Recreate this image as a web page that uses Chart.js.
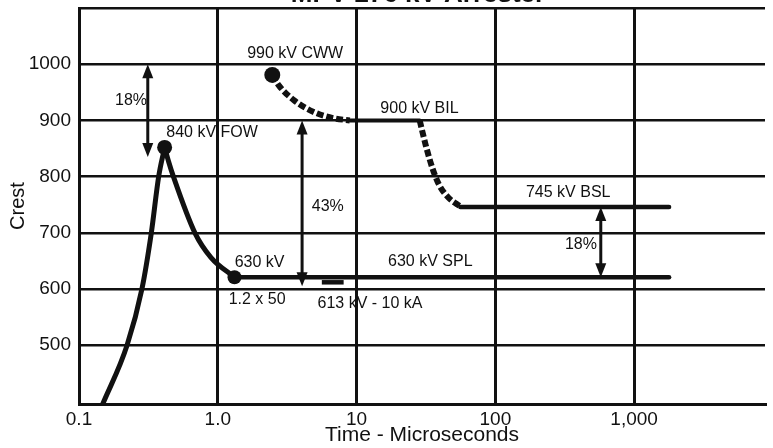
<!DOCTYPE html>
<html><head><meta charset="utf-8">
<script src="https://cdn.jsdelivr.net/npm/chart.js@4/dist/chart.umd.min.js"></script>
<style>html,body{margin:0;padding:0;background:#fff;overflow:hidden}#wrap{width:773px;height:448px}</style>
</head><body><div id="wrap"><canvas id="c" width="773" height="448"></canvas></div>
<script>
// ---- data (time in microseconds, crest kV) ----
const chartTitle = "MPV 276 kV Arrester";
const xTicks = [0.1, 1, 10, 100, 1000];
const xTickLabels = ["0.1", "1.0", "10", "100", "1,000"];
const yTicks = [500, 600, 700, 800, 900, 1000, 1100];
const fowRise = [[0.148,395],[0.222,500],[0.284,600],[0.332,700],[0.375,800],[0.414,852]];
const fowDecay = [[0.414,852],[0.442,827],[0.479,800],[0.684,700],[0.894,656],[1.32,621]];
const splLine = [[1.32,621],[1785,621]];
const cwwCurve = [[2.47,981],[2.76,962],[3.53,936],[4.91,915],[6.81,904],[8.94,900]];
const bilLine = [[8.94,900],[28.5,900]];
const bslDrop = [[28.5,900],[31.5,856],[35.2,815],[39.2,786],[46.2,762],[55.9,747]];
const bslLine = [[55.9,746],[1785,746]];
const dischargeMark = [[5.62,612],[8.07,612]];
const dots = [[0.414,852],[1.32,621],[2.47,981]];
const arrows = [[0.313,1000,835],[4.05,900,605],[575,746,621]]; // x, top, bottom
const labels = [
  ["990 kV CWW", 3.61, 1018],
  ["18%", 0.237, 936],
  ["840 kV FOW", 0.909, 879],
  ["900 kV BIL", 28.4, 921],
  ["43%", 6.2, 747],
  ["745 kV BSL", 335, 771],
  ["18%", 414, 679],
  ["630 kV", 2.0, 647],
  ["630 kV SPL", 34.0, 649],
  ["1.2 x 50", 1.92, 582],
  ["613 kV - 10 kA", 12.5, 575]
];

const INK = '#111';
const FONT = '"Liberation Sans", Arial, sans-serif';
const pts = a => a.map(p => ({x:p[0], y:p[1]}));
function ser(arr, opts){ return Object.assign({data: pts(arr), borderColor: INK, backgroundColor: INK, pointRadius: 0, borderWidth: 5, cubicInterpolationMode: 'monotone', fill:false, borderCapStyle:'round', borderJoinStyle:'round'}, opts||{}); }

const overlay = {
  id: 'overlay',
  afterDatasetsDraw(chart){
    const ctx = chart.ctx, xs = chart.scales.x, ys = chart.scales.y;
    ctx.save();
    ctx.fillStyle = INK; ctx.strokeStyle = INK;
    const hl = 14, hw = 5.5;
    arrows.forEach(a => {
      const x = xs.getPixelForValue(a[0]);
      const y1 = ys.getPixelForValue(a[1]), y2 = ys.getPixelForValue(a[2]);
      ctx.lineWidth = 3;
      ctx.beginPath(); ctx.moveTo(x, y1 + hl - 2); ctx.lineTo(x, y2 - hl + 2); ctx.stroke();
      ctx.beginPath(); ctx.moveTo(x, y1); ctx.lineTo(x - hw, y1 + hl); ctx.lineTo(x + hw, y1 + hl); ctx.closePath(); ctx.fill();
      ctx.beginPath(); ctx.moveTo(x, y2); ctx.lineTo(x - hw, y2 - hl); ctx.lineTo(x + hw, y2 - hl); ctx.closePath(); ctx.fill();
    });
    ctx.font = '16px ' + FONT;
    ctx.textAlign = 'center'; ctx.textBaseline = 'middle';
    labels.forEach(l => {
      ctx.fillText(l[0], xs.getPixelForValue(l[1]), ys.getPixelForValue(l[2]));
    });
    ctx.font = 'bold 26px ' + FONT;
    ctx.textBaseline = 'alphabetic';
    ctx.fillText(chartTitle, 418, 2);
    ctx.restore();
  }
};

new Chart(document.getElementById('c'), {
  type: 'line',
  data: { datasets: [
    { data: pts(dots), showLine: false, pointRadius: [7.5,7,8], pointBackgroundColor: INK, pointBorderColor: INK, pointBorderWidth: 0 },
    ser(fowRise),
    ser(fowDecay),
    ser(splLine, {borderWidth: 4.5}),
    ser(cwwCurve, {borderDash: [7,3], borderCapStyle: 'butt', borderWidth: 6}),
    ser(bilLine, {borderWidth: 4}),
    ser(bslDrop, {borderDash: [7,3], borderCapStyle: 'butt', borderWidth: 6}),
    ser(bslLine, {borderWidth: 4.5}),
    ser(dischargeMark, {borderWidth: 4.5, borderCapStyle: 'butt'})
  ]},
  options: {
    responsive: false, animation: false, devicePixelRatio: 1,
    layout: { padding: { top: 6, right: 0, left: 0, bottom: 0 } },
    plugins: { legend: { display: false }, tooltip: { enabled: false } },
    scales: {
      x: {
        type: 'logarithmic', min: 0.1, max: 8770, position: 'bottom',
        afterBuildTicks: s => { s.ticks = xTicks.map(v => ({value: v})); },
        afterFit: s => { s.height = 44; s.paddingLeft = 0; s.paddingRight = 0; },
        grid: { color: INK, lineWidth: 3, drawTicks: false },
        border: { display: true, color: INK, width: 3 },
        ticks: { color: INK, font: { family: FONT, size: 19 }, padding: 4, maxRotation: 0, autoSkip: false,
                 callback: (v, i) => xTickLabels[i] },
        title: { display: true, text: 'Time - Microseconds', color: INK, font: { family: FONT, size: 21 }, padding: 0 }
      },
      y: {
        type: 'linear', min: 395.5, max: 1100,
        afterBuildTicks: s => { s.ticks = yTicks.map(v => ({value: v})); },
        afterFit: s => { s.width = 79; s.paddingTop = 0; s.paddingBottom = 0; },
        grid: { color: INK, lineWidth: 2.5, drawTicks: false },
        border: { display: true, color: INK, width: 3 },
        ticks: { color: INK, font: { family: FONT, size: 19 }, padding: 8,
                 callback: v => (v === 1100 ? '' : String(v)) },
        title: { display: true, text: 'Crest', color: INK, font: { family: FONT, size: 20 }, padding: { top: 6, bottom: 0 } }
      }
    }
  },
  plugins: [overlay]
});
</script></body></html>
